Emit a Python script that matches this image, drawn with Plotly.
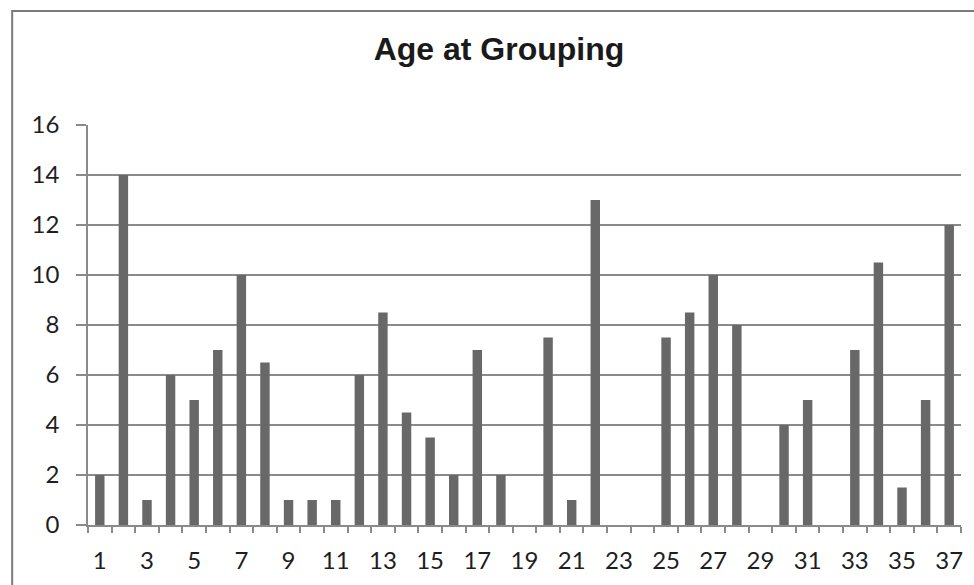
import plotly.graph_objects as go

# Number of people by age at grouping
ages = list(range(1, 38))
counts = [2, 14, 1, 6, 5, 7, 10, 6.5, 1, 1,
          1, 6, 8.5, 4.5, 3.5, 2, 7, 2, 0, 7.5,
          1, 13, 0, 0, 7.5, 8.5, 10, 8, 0, 4,
          5, 0, 7, 10.5, 1.5, 5, 12]
tick_labels = [str(a) for a in ages if a % 2 == 1]
tick_positions = [a for a in ages if a % 2 == 1]
y_ticks = list(range(0, 17, 2))

W, H = 974, 585
L, R, T, B = 88, 11, 125, 60

fig = go.Figure()
fig.add_trace(go.Bar(
    x=ages, y=counts,
    marker=dict(color="#686868", line=dict(width=0)),
    width=0.4,
))

tick_font = dict(family="Lato, 'Liberation Sans', Arial, sans-serif", size=24, color="#1e1e1e")

fig.update_layout(
    width=W, height=H,
    margin=dict(l=L, r=R, t=T, b=B),
    paper_bgcolor="white", plot_bgcolor="white",
    showlegend=False,
    title=dict(
        text="<b>Age at Grouping</b>",
        x=499 / W, xref="container", xanchor="center",
        y=1 - 49 / H, yref="container", yanchor="middle",
        font=dict(family="'Liberation Sans', Arial, sans-serif", size=32, color="#1a1a1a"),
    ),
    xaxis=dict(
        range=[0.5, 37.5],
        tickmode="array", tickvals=tick_positions, ticktext=tick_labels,
        tickfont=tick_font,
        ticks="", showgrid=False,
        showline=True, linecolor="#8a8a8a", linewidth=2,
        ticklabelstandoff=13,
        minor=dict(ticks="outside", tick0=0.5, dtick=1, ticklen=6,
                   tickcolor="#8a8a8a", tickwidth=1.5, showgrid=False),
        zeroline=False,
    ),
    yaxis=dict(
        range=[0, 16],
        tickmode="array", tickvals=y_ticks,
        tickfont=tick_font,
        ticks="outside", ticklen=10, tickcolor="#8a8a8a", tickwidth=1.5,
        showgrid=True, gridcolor="#8a8a8a", gridwidth=1.5,
        showline=True, linecolor="#8a8a8a", linewidth=1.5,
        ticklabelstandoff=12,
        zeroline=False,
    ),
)

# Outer chart frame
pw = W - L - R
ph = H - T - B
fig.add_shape(
    type="rect", xref="paper", yref="paper",
    x0=(12 - L) / pw, x1=(W + 5 - L) / pw,
    y0=(H - B - (H + 5)) / ph, y1=(H - B - 11) / ph,
    line=dict(color="#7a7a7a", width=2), fillcolor="rgba(0,0,0,0)",
    layer="below",
)

fig.write_html("out.html")
